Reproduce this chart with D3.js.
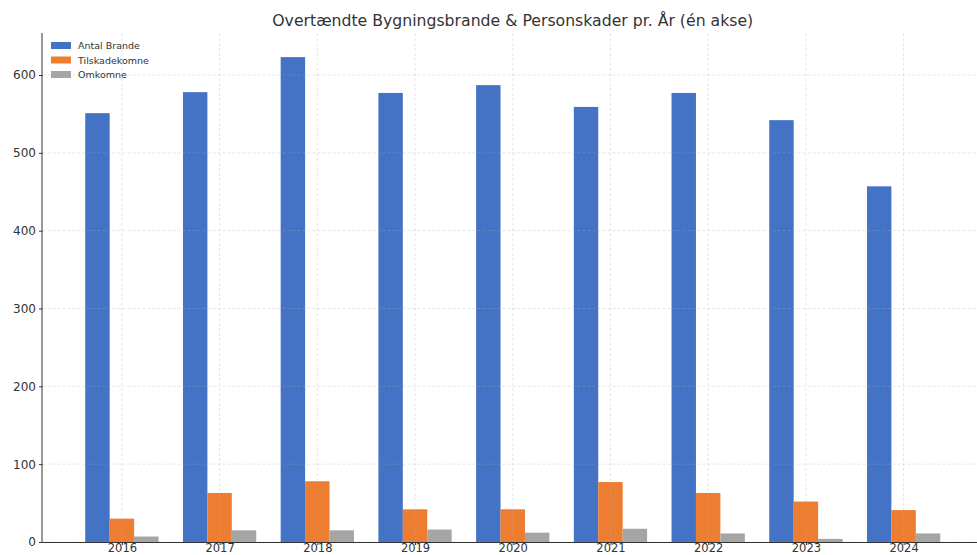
<!DOCTYPE html>
<html><head><meta charset="utf-8">
<script src="https://cdn.jsdelivr.net/npm/d3@7"></script>
<style>body{margin:0;background:#fff}svg{display:block}</style>
</head><body>
<svg id="c" width="977" height="555"></svg>
<script>
const years = ["2016","2017","2018","2019","2020","2021","2022","2023","2024"];
const brande = [551, 578, 623, 577, 587, 559, 577, 542, 457];
const tilskade = [30, 63, 78, 42, 42, 77, 63, 52, 41];
const omkomne = [7, 15, 15, 16, 12, 17, 11, 4, 11];
const seriesNames = ["Antal Brande", "Tilskadekomne", "Omkomne"];
const colors = ["#4472C4", "#ED7D31", "#A5A5A5"];
const yTicks = [0, 100, 200, 300, 400, 500, 600];
const title = "Overtændte Bygningsbrande & Personskader pr. År (én akse)";

(function () {
const series = [brande, tilskade, omkomne];
const svg = d3.select("#c");
const font = "DejaVu Sans, sans-serif";
const pL = 42.5, pR = 983, pT = 33, pB = 542;
const barW = 0.25;
const x = d3.scaleLinear().domain([-0.8125, years.length - 1 + 0.8125]).range([pL, pR]);
const y = d3.scaleLinear().domain([0, 654]).range([pB, pT]);
const pxPerUnit = x(1) - x(0);

// bars
series.forEach((vals, si) => {
  svg.append("g").selectAll("rect").data(vals).join("rect")
    .attr("x", (d, i) => x(i + (si - 1) * barW - barW / 2))
    .attr("width", barW * pxPerUnit)
    .attr("y", d => y(d))
    .attr("height", d => y(0) - y(d))
    .attr("fill", colors[si]);
});

// grid (drawn over bars)
const grid = svg.append("g").attr("stroke", "#b0b0b0").attr("stroke-opacity", 0.4)
  .attr("stroke-dasharray", "3,2").attr("stroke-width", 0.8);
grid.selectAll(".h").data(yTicks).join("line").attr("class", "h")
  .attr("x1", pL).attr("x2", pR).attr("y1", d => y(d)).attr("y2", d => y(d));
grid.selectAll(".v").data(years).join("line").attr("class", "v")
  .attr("x1", (d, i) => x(i)).attr("x2", (d, i) => x(i)).attr("y1", pT).attr("y2", pB);

// axes
const xAxis = d3.axisBottom(x).tickValues(d3.range(years.length)).tickFormat(i => years[i]).tickSize(3).tickPadding(1);
const gx = svg.append("g").attr("transform", `translate(0,${pB})`).call(xAxis);
gx.select(".domain").attr("stroke", "#333").attr("d", `M${pL},0.5H${pR}`);
gx.selectAll(".tick line").attr("stroke", "#333");
gx.selectAll("text").attr("font-family", font).attr("font-size", 11.5).attr("fill", "#333")
  .attr("dy", null).attr("y", 9.5);

const yAxis = d3.axisLeft(y).tickValues(yTicks).tickSize(3.5).tickPadding(3);
const gy = svg.append("g").attr("transform", `translate(${pL},0)`).call(yAxis);
gy.select(".domain").attr("stroke", "#333").attr("d", `M-0.5,${pT}V${pB}`);
gy.selectAll(".tick line").attr("stroke", "#333");
gy.selectAll("text").attr("font-family", font).attr("font-size", 12).attr("fill", "#333");

// title
svg.append("text").attr("x", (pL + pR) / 2).attr("y", 26).attr("text-anchor", "middle")
  .attr("font-family", font).attr("font-size", 15.7).attr("fill", "#333").text(title);

// legend
const lg = svg.append("g").attr("transform", "translate(51,42)");
seriesNames.forEach((n, i) => {
  lg.append("rect").attr("x", 0).attr("y", i * 14.5).attr("width", 20).attr("height", 7).attr("fill", colors[i]);
  lg.append("text").attr("x", 27).attr("y", i * 14.5 + 7).attr("font-family", font).attr("font-size", 9.5)
    .attr("fill", "#333").text(n);
});
})();
</script>
</body></html>
